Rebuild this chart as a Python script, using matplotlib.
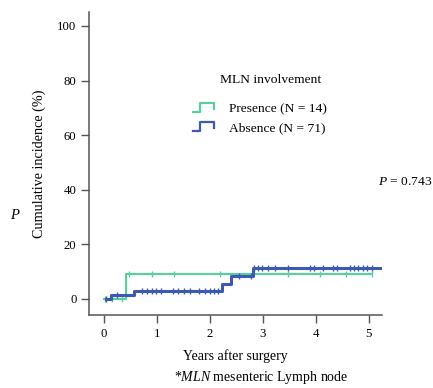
import numpy as np
import matplotlib
matplotlib.use("Agg")
import matplotlib.pyplot as plt
from matplotlib.legend_handler import HandlerBase
from matplotlib.lines import Line2D


# Step curves (years after surgery, cumulative incidence %)
presence_times = [0.0, 0.41, 5.06]
presence_values = [0.0, 9.2, 9.2]
presence_censored = [0.02, 0.15, 0.34, 0.47, 0.91, 1.32, 2.2, 3.48, 4.07, 4.56, 5.05]

absence_times = [0.05, 0.13, 0.57, 2.23, 2.40, 2.81, 5.25]
absence_values = [0.0, 1.4, 2.8, 5.6, 8.5, 11.3, 11.3]
absence_censored = [0.05, 0.24, 0.72, 0.82, 0.91, 0.99, 1.08, 1.30, 1.40, 1.52,
                    1.62, 1.80, 1.90, 2.00, 2.08, 2.15, 2.55, 2.78, 2.84, 2.91,
                    2.99, 3.10, 3.23, 3.48, 3.89, 3.97, 4.14, 4.33, 4.39, 4.64,
                    4.72, 4.80, 4.89, 4.97, 5.05]

x_ticks = [0, 1, 2, 3, 4, 5]
y_ticks = [0, 20, 40, 60, 80, 100]

GREEN = "#56d19c"
BLUE = "#3d59b3"
AXIS_COLOR = "#555555"

plt.rcParams["font.family"] = ["Liberation Serif", "DejaVu Serif"]
plt.rcParams["mathtext.fontset"] = "custom"
plt.rcParams["mathtext.rm"] = "Liberation Serif"
plt.rcParams["mathtext.it"] = "Liberation Serif:italic"


class StepHandler(HandlerBase):
    """Draw a small step shape as the legend icon."""

    def create_artists(self, legend, orig_handle, xdescent, ydescent,
                       width, height, fontsize, trans):
        x0, y0 = -xdescent, -ydescent
        xs = [x0, x0 + 0.33 * width, x0 + 0.33 * width, x0 + width, x0 + width]
        ys = [y0 + 0.05 * height, y0 + 0.05 * height, y0 + 0.95 * height,
              y0 + 0.95 * height, y0 + 0.3 * height]
        line = Line2D(xs, ys, color=orig_handle.get_color(), lw=1.6,
                      transform=trans)
        return [line]


def step_value(times, values, t):
    idx = np.searchsorted(times, t, side="right") - 1
    idx = np.clip(idx, 0, len(values) - 1)
    return np.asarray(values)[idx]


fig = plt.figure(figsize=(4.33, 3.88), dpi=100)
ax = fig.add_axes([0.2055, 0.188, 0.6765, 0.781])

ax.step(presence_times, presence_values, where="post", color=GREEN, lw=1.5)
ax.plot(presence_censored, step_value(presence_times, presence_values, presence_censored),
        linestyle="none", marker="|", markersize=5, mew=1.0, color=GREEN)

ax.step(absence_times, absence_values, where="post", color=BLUE, lw=2.2)
ax.plot(absence_censored, step_value(absence_times, absence_values, absence_censored),
        linestyle="none", marker="|", markersize=5, mew=1.0, color=BLUE)

ax.set_xlim(-0.28, 5.245)
ax.set_ylim(-5.9, 105.1)
ax.set_xticks(x_ticks)
ax.set_yticks(y_ticks)

for side in ["top", "right"]:
    ax.spines[side].set_visible(False)
for side in ["left", "bottom"]:
    ax.spines[side].set_color(AXIS_COLOR)
    ax.spines[side].set_linewidth(1.1)
ax.tick_params(direction="out", length=6, width=1.0, color=AXIS_COLOR,
               labelsize=9.2, pad=3)

ax.set_xlabel("Years after surgery", fontsize=10, labelpad=7)
ax.set_ylabel("Cumulative incidence (%)", fontsize=10.2, labelpad=8)

handles = [Line2D([], [], color=GREEN), Line2D([], [], color=BLUE)]
ax.legend(handles, ["Presence (N = 14)", "Absence (N = 71)"],
          loc="center left", bbox_to_anchor=(0.355, 0.650), frameon=False,
          fontsize=9.7, borderpad=0, borderaxespad=0,
          handler_map={Line2D: StepHandler()},
          handlelength=1.55, handleheight=0.8, handletextpad=1.1,
          labelspacing=0.45)
fig.text(271 / 433, 1 - 80 / 388, "MLN involvement", ha="center", va="center",
         fontsize=9.7)

fig.text(0.998, 1 - 182 / 388, "$P$ = 0.743", ha="right", va="center", fontsize=9.7)
fig.text(0.035, 1 - 215 / 388, "$P$", ha="center", va="center", fontsize=10.5)
fig.text(261 / 433, 1 - 378 / 388, r"*$MLN$ mesenteric Lymph node",
         ha="center", va="center", fontsize=10)

fig.savefig("out.png", dpi=100)
